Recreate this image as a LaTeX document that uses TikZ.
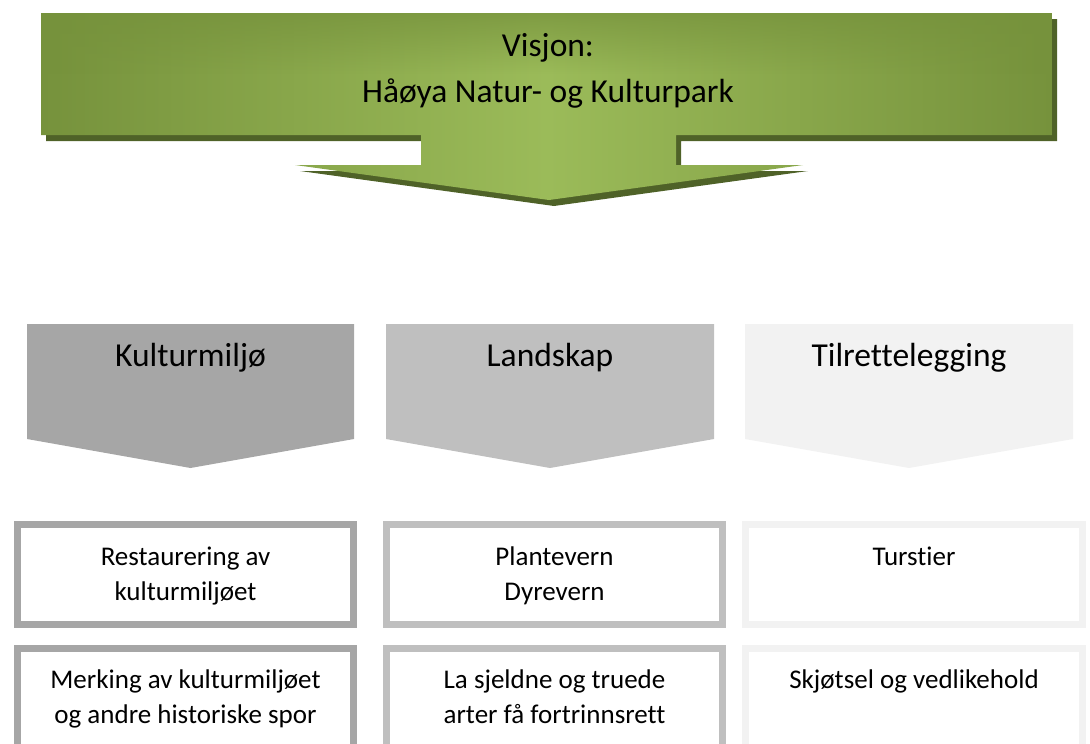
\documentclass[tikz,border=0pt]{standalone}
\usepackage{fontspec}
\setmainfont[Ligatures=NoCommon]{Carlito}
\usetikzlibrary{calc,fadings}
\definecolor{oliveDark}{HTML}{76923C}
\definecolor{oliveLight}{HTML}{9BBB59}
\definecolor{oliveShadow}{HTML}{4F6228}
\definecolor{greyA}{HTML}{A6A6A6}
\definecolor{greyB}{HTML}{BFBFBF}
\definecolor{greyC}{HTML}{F2F2F2}
\tikzfading[name=topdark,top color=transparent!25,bottom color=transparent!100,middle color=transparent!100]

\begin{document}
\begin{tikzpicture}[x=1pt,y=-1pt,
  bigtext/.style={font=\fontsize{33.5}{40}\selectfont,anchor=base,inner sep=0pt},
  smalltext/.style={font=\fontsize{27}{32}\selectfont,anchor=base,inner sep=0pt},
  frame/.style={line width=7pt,fill=white}]
\useasboundingbox (0,0) rectangle (1090,744);
\clip (0,0) rectangle (1090,744);
% vision arrow with its shadow
\fill[oliveShadow,shift={(5,6)}] (41,13) -- (1052,13) -- (1052,135) -- (676,135) -- (676,165) -- (803,165)
  -- (549,200) -- (295,165) -- (421,165) -- (421,135) -- (41,135) -- cycle;
\shade[left color=oliveDark,right color=oliveDark,middle color=oliveLight] (41,13) -- (1052,13) -- (1052,135)
  -- (676,135) -- (676,165) -- (803,165) -- (549,200) -- (295,165) -- (421,165) -- (421,135) -- (41,135) -- cycle;
\fill[oliveDark,path fading=topdark] (41,13) rectangle (1052,135);
\node[bigtext] (visjon) at (548,56) {Visjon:};
\node[bigtext] (park) at (548,102) {Håøya Natur- og Kulturpark};
% three chevrons
\fill[greyA] (27,324) -- (354,324) -- (354,439) -- (190.5,468) -- (27,439) -- cycle;
\fill[greyB] (386,324) -- (714,324) -- (714,439) -- (550,468) -- (386,439) -- cycle;
\fill[greyC] (745,324) -- (1073,324) -- (1073,439) -- (909,468) -- (745,439) -- cycle;
\node[bigtext] (kultur) at (190.5,366) {Kulturmiljø};
\node[bigtext] (landskap) at (550,366) {Landskap};
\node[bigtext] (tilrett) at (909,366) {Tilrettelegging};
% boxes below
\draw[frame,draw=greyA] (17.5,524.5) rectangle (353.5,624.5);
\draw[frame,draw=greyA] (17.5,648.5) rectangle (353.5,790);
\draw[frame,draw=greyB] (386.5,524.5) rectangle (722.5,624.5);
\draw[frame,draw=greyB] (386.5,648.5) rectangle (722.5,790);
\draw[frame,draw=greyC] (745.5,524.5) rectangle (1082.5,624.5);
\draw[frame,draw=greyC] (745.5,648.5) rectangle (1082.5,790);
\node[smalltext] (rest1) at (185.5,565) {Restaurering av};
\node[smalltext] (rest2) at (185.5,600) {kulturmiljøet};
\node[smalltext] (merk1) at (185.5,688) {Merking av kulturmiljøet};
\node[smalltext] (merk2) at (185.5,723) {og andre historiske spor};
\node[smalltext] (plante) at (554.5,565) {Plantevern};
\node[smalltext] (dyre) at (554.5,600) {Dyrevern};
\node[smalltext] (sjeld1) at (554.5,688) {La sjeldne og truede};
\node[smalltext] (sjeld2) at (554.5,723) {arter få fortrinnsrett};
\node[smalltext] (tur) at (914,565) {Turstier};
\node[smalltext] (skjot) at (914,688) {Skjøtsel og vedlikehold};
\end{tikzpicture}
\end{document}
